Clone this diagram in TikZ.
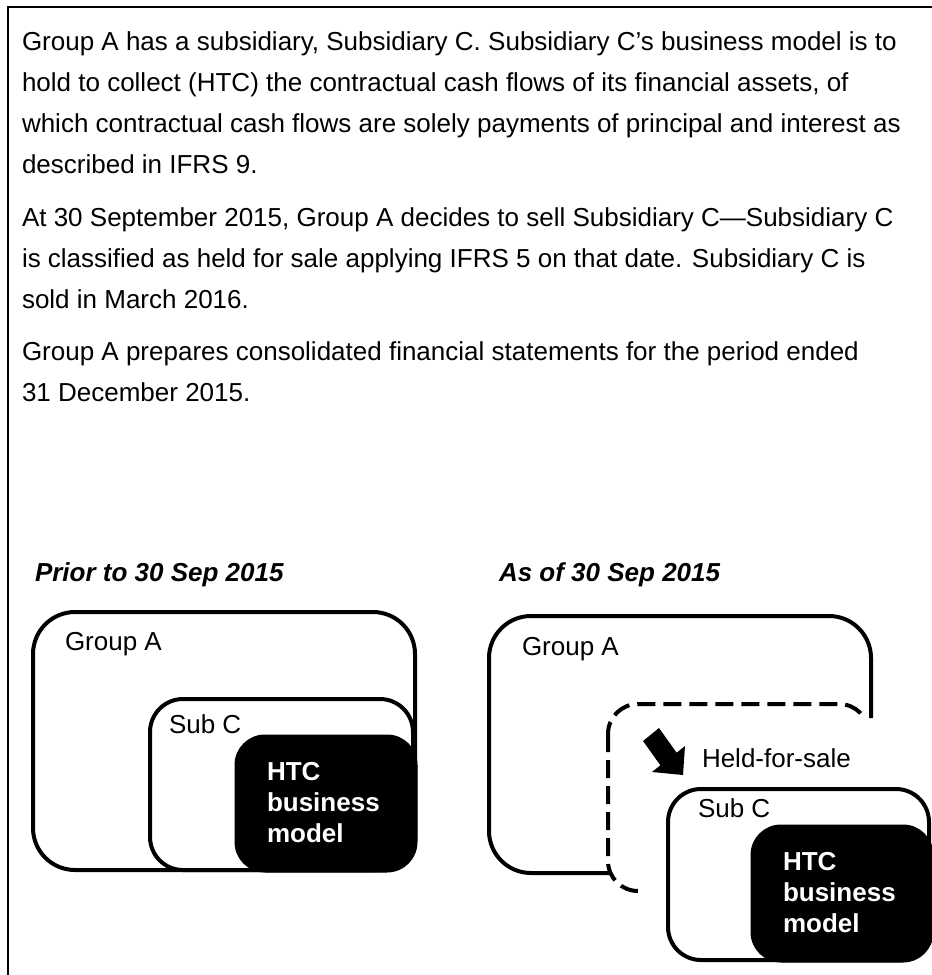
\documentclass[tikz,border=0pt]{standalone}
\usepackage{fontspec}
\setmainfont{Liberation Sans}
\begin{document}
\begin{tikzpicture}[x=1pt,y=-1pt,
  txt/.style={font=\fontsize{26}{31}\selectfont, anchor=base west, inner sep=0pt, outer sep=0pt},
  head/.style={txt, font=\fontsize{26}{31}\selectfont\bfseries\itshape},
  wtxt/.style={txt, font=\fontsize{26}{31}\selectfont\bfseries, text=white},
  box/.style={draw=black, line width=4pt, fill=white},
  blackbox/.style={fill=black, draw=black, line width=1pt},
  dashbox/.style={draw=black, line width=4pt, dash pattern=on 18pt off 8pt}
]
\useasboundingbox (0,0) rectangle (932,975);
\clip (0,0) rectangle (932,975);
% frame
\draw[line width=1.6pt] (8,985) -- (8,7) -- (945,7);
% paragraphs
\node[txt] (p1a) at (22,50) {Group A has a subsidiary, Subsidiary C. Subsidiary C’s business model is to};
\node[txt] (p1b) at (22,91) {hold to collect (HTC) the contractual cash flows of its financial assets, of};
\node[txt] (p1c) at (22,132) {which contractual cash flows are solely payments of principal and interest as};
\node[txt] (p1d) at (22,173) {described in IFRS 9.};
\node[txt] (p2a) at (22,226) {At 30 September 2015, Group A decides to sell Subsidiary C—Subsidiary C};
\node[txt] (p2b) at (22,267) {is classified as held for sale applying IFRS 5 on that date. Subsidiary C is};
\node[txt] (p2c) at (22,308) {sold in March 2016.};
\node[txt] (p3a) at (22,360) {Group A prepares consolidated financial statements for the period ended};
\node[txt] (p3b) at (22,401) {31 December 2015.};
% headings
\node[head] (h1) at (35,581) {Prior to 30 Sep 2015};
\node[head] (h2) at (499,581) {As of 30 Sep 2015};
% ---------- left diagram
\draw[box, rounded corners=42pt] (33,612) rectangle (415,870);
\draw[box, rounded corners=33pt] (150,699) rectangle (413,870);
\fill[blackbox, rounded corners=30pt] (235,735) rectangle (417,872);
\node[txt] (lga) at (65,650) {Group A};
\node[txt] (lsc) at (169,733) {Sub C};
\node[wtxt] (lh1) at (267,780) {HTC};
\node[wtxt] (lh2) at (267,811) {business};
\node[wtxt] (lh3) at (267,842) {model};
% ---------- right diagram
\begin{scope}
  \clip (470,590) -- (940,590) -- (940,718) -- (622,718) -- (622,975) -- (470,975) -- cycle;
  \draw[box, rounded corners=42pt] (489,616) rectangle (871,873);
\end{scope}
\begin{scope}
  \clip (590,690) -- (940,690) -- (940,718) -- (862,718) -- (862,880) -- (641,880) -- (641,910) -- (590,910) -- cycle;
  \fill[white, rounded corners=33pt] (608,704) rectangle (869,891);
  \draw[dashbox, rounded corners=30pt] (608,704) rectangle (869,891);
\end{scope}
\node[txt] (rga) at (522,655) {Group A};
\fill (659,728) -- (676.6,752.7) -- (685,746) -- (683,775) -- (652,772) -- (660.4,765.3) -- (643,741) -- cycle;
\node[txt] (hfs) at (702,767) {Held-for-sale};
\draw[box, rounded corners=33pt] (668,789) rectangle (929,960);
\fill[blackbox, rounded corners=30pt] (751,825) rectangle (933,962);
\node[txt] (rsc) at (698,817) {Sub C};
\node[wtxt] (rh1) at (783,870) {HTC};
\node[wtxt] (rh2) at (783,901) {business};
\node[wtxt] (rh3) at (783,932) {model};
\end{tikzpicture}
\end{document}
